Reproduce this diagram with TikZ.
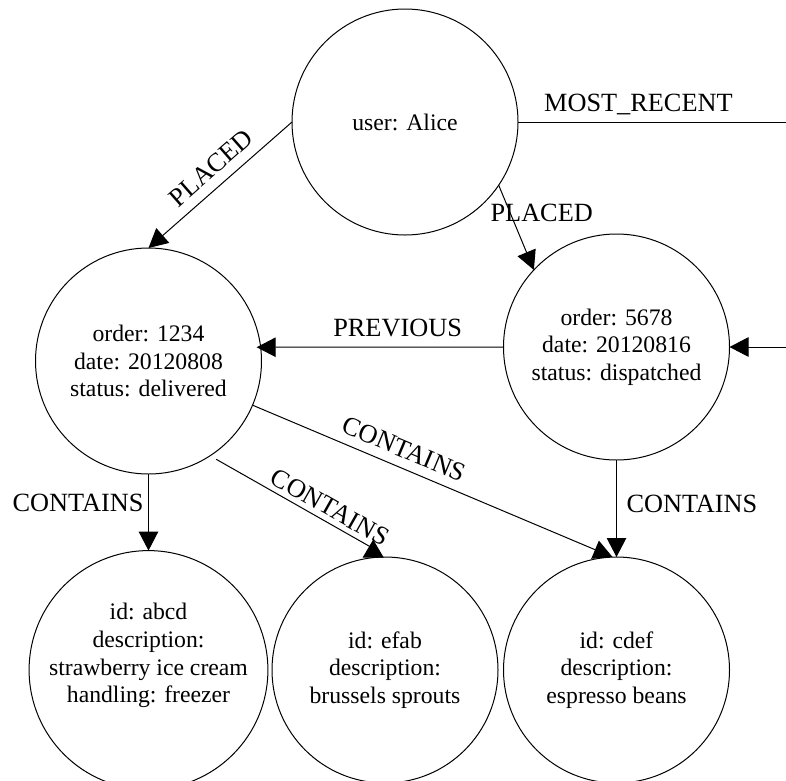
\documentclass[tikz,border=0pt]{standalone}
\usepackage{fontspec}
\setmainfont{Liberation Serif}
\usetikzlibrary{arrows.meta,calc}
\newcommand\nodetxt{\fontsize{23.7}{27.7}\selectfont}
\newcommand\edgetxt{\fontsize{26.3}{30}\selectfont}

\begin{document}
\begin{tikzpicture}[x=1pt,y=-1pt,
  entity/.style={circle, draw, line width=1pt, minimum size=226pt,
    inner sep=0pt, outer sep=0pt, align=center, font=\nodetxt},
  rel/.style={line width=1pt, -{Triangle[length=19pt,width=19.5pt]}},
  relrev/.style={line width=1pt, -{Triangle[length=18pt,width=21pt,reversed]}},
  lbl/.style={font=\edgetxt, inner sep=0pt}]
\useasboundingbox (0,0) rectangle (786,780);
\clip (0,0) rectangle (786,780);

% entities
\node[entity] (alice) at (405,122) {user: Alice};
\node[entity] (o1234) at (148.5,361) {order: 1234\\date: 20120808\\status: delivered};
\node[entity] (o5678) at (616.5,347) {order: 5678\\date: 20120816\\status: dispatched};
\node[entity] (abcd) at (148.5,670) {id: abcd\\description:\\strawberry ice cream\\handling: freezer\\[6pt]\mbox{}};
\node[entity] (efab) at (385,670) {id: efab\\description:\\brussels sprouts};
\node[entity] (cdef) at (616.5,670) {id: cdef\\description:\\espresso beans};

% route of the MOST_RECENT edge, running past the right border
\coordinate (mrA) at (860,122);
\coordinate (mrB) at (860,347);
% bend just above the efab item
\coordinate (efabk) at ($(efab.96.6)+(0,-9.2)$);

% relationships
\draw[rel] (alice.west) -- node[lbl, pos=0.477, sloped, yshift=19pt] {PLACED} (o1234.north);
\draw[rel] (alice.-34.7) -- node[lbl, pos=0.333, xshift=31.3pt] {PLACED} (o5678.137.3);
\draw[rel] (alice.east) -- node[lbl, pos=0.352, anchor=base, yshift=10.3pt] {MOST\_RECENT} (mrA) -- (mrB) -- (o5678.east);
\draw[rel, shorten >=-4pt] (o5678.west) -- node[lbl, pos=0.436, anchor=base, yshift=10.3pt] {PREVIOUS} (o1234.7.1);
\draw[rel] (o1234.south) -- node[lbl, pos=0.494, anchor=base east, xshift=-4.5pt] {CONTAINS} (abcd.north);
\draw[rel] (o1234.-23.8) -- node[lbl, pos=0.401, sloped, yshift=18.5pt] {CONTAINS} (cdef.92);
\draw[relrev, shorten <=7pt] (o1234.-57.1) -- node[lbl, pos=0.692, sloped, yshift=14.5pt] {CONTAINS} (efabk) -- (efab.96.6);
\draw[rel] (o5678.south) -- node[lbl, pos=0.536, anchor=base west, xshift=9.5pt] {CONTAINS} (cdef.north);
\end{tikzpicture}
\end{document}
